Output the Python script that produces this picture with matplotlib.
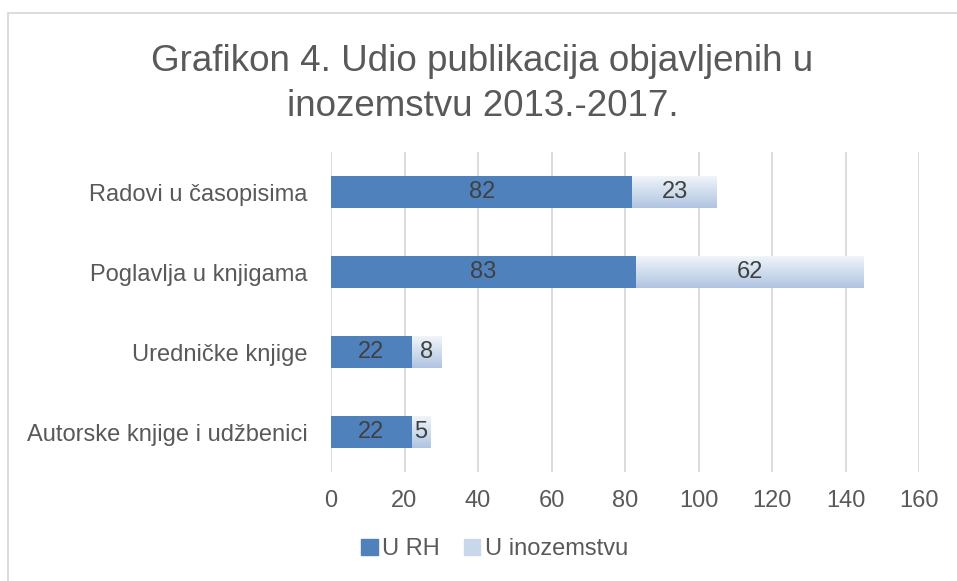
import matplotlib.pyplot as plt
import matplotlib.patches as mpatches
import numpy as np

plt.rcParams['font.family'] = ['Liberation Sans', 'DejaVu Sans']

categories = ['Radovi u časopisima', 'Poglavlja u knjigama',
              'Uredničke knjige', 'Autorske knjige i udžbenici']
u_rh = [82, 83, 22, 22]
u_inozemstvu = [23, 62, 8, 5]
series_names = ['U RH', 'U inozemstvu']
title = 'Grafikon 4. Udio publikacija objavljenih u\ninozemstvu 2013.-2017.'
xticks = [0, 20, 40, 60, 80, 100, 120, 140, 160]

dark = '#4f81bd'
light_top = np.array([0.94, 0.96, 0.98])
light_bot = np.array([0.69, 0.77, 0.88])
text_col = '#404040'
axis_col = '#595959'


def plot_data():
    fig = plt.figure(figsize=(9.57, 5.81), dpi=100)
    ax = fig.add_axes([331 / 957, 1 - 472 / 581, 588 / 957, 320 / 581])

    y = np.arange(len(categories))
    ax.barh(y, u_rh, height=0.4, color=dark, zorder=3)
    b2 = ax.barh(y, u_inozemstvu, left=u_rh, height=0.4,
                 color='none', zorder=3)

    # gradient fill for the second series
    grad = np.linspace(0, 1, 64)[:, None]
    img = light_top[None, None, :] * (1 - grad[..., None]) + \
        light_bot[None, None, :] * grad[..., None]
    for p in b2.patches:
        x0, y0 = p.get_x(), p.get_y()
        w, h = p.get_width(), p.get_height()
        ax.imshow(img, extent=[x0, x0 + w, y0 + h, y0], aspect='auto',
                  zorder=3, interpolation='bilinear')

    for i in range(len(categories)):
        ax.text(u_rh[i] / 2, y[i], str(u_rh[i]), ha='center', va='center',
                fontsize=17, color=text_col, zorder=4)
        ax.text(u_rh[i] + u_inozemstvu[i] / 2, y[i], str(u_inozemstvu[i]),
                ha='center', va='center', fontsize=17, color=text_col,
                zorder=4)

    ax.set_xlim(0, 160)
    ax.set_ylim(3.5, -0.5)
    ax.set_xticks(xticks)
    ax.set_yticks(y)
    ax.set_yticklabels(categories)
    ax.tick_params(axis='both', length=0, labelsize=17, colors=axis_col)
    ax.tick_params(axis='x', pad=13)
    ax.tick_params(axis='y', pad=17)
    ax.grid(axis='x', color='#d9d9d9', lw=1.3, zorder=0)
    for s in ax.spines.values():
        s.set_visible(False)

    fig.text(0.504, 0.856, title, ha='center', va='center', fontsize=26.5,
             color=axis_col, linespacing=1.38)

    handles = [mpatches.Patch(color=dark), mpatches.Patch(color='#c9d7eb')]
    fig.legend(handles, series_names, loc='center', ncol=2,
               bbox_to_anchor=(0.517, 0.055), frameon=False, fontsize=17,
               handlelength=0.7, handleheight=0.7, handletextpad=0.2,
               columnspacing=1.0, labelcolor=axis_col)

    # chart border
    fig.patches.append(mpatches.Rectangle(
        (8 / 957, -0.1), 1.2, 1 - 13 / 581 + 0.1, transform=fig.transFigure,
        fill=False, edgecolor='#d9d9d9', lw=1.3))

    fig.savefig('out.png', dpi=100)


if __name__ == '__main__':
    plot_data()
